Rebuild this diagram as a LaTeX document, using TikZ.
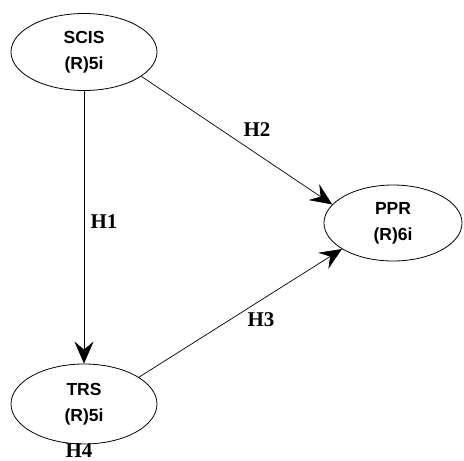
\documentclass[tikz,border=0pt]{standalone}
\usepackage{fontspec}
\newfontfamily\conbold{Liberation Sans Bold}
\newfontfamily\hypbold{Liberation Serif Bold}
\usetikzlibrary{shapes.geometric,arrows.meta}
\begin{document}
\begin{tikzpicture}[x=1pt,y=-1pt,
  construct/.style={draw, line width=0.8pt, ellipse, inner sep=0pt,
    minimum width=146pt, minimum height=77pt, align=center,
    font=\conbold\fontsize{17.5}{26}\selectfont},
  path/.style={draw, line width=0.7pt, -{Stealth[length=22pt,width=19pt,inset=8pt]}},
  hyp/.style={font=\hypbold\fontsize{21}{22}\selectfont, inner sep=1pt}]
\useasboundingbox (0,0) rectangle (464,461);
\node[construct] (scis) at (84,52) {SCIS\\(R)5i};
\node[construct, minimum width=138pt, minimum height=76pt] (ppr) at (393,223) {PPR\\(R)6i};
\node[construct, minimum height=80pt] (trs) at (84,404) {TRS\\(R)5i};
\draw[path] (scis.south) -- (trs.north);
\draw[path] (scis.-23) -- (ppr.163);
\draw[path] (trs.26) -- (ppr.207);
\node[hyp] (h1) at (104,222) {H1};
\node[hyp] (h2) at (257,130) {H2};
\node[hyp] (h3) at (261,320) {H3};
\node[hyp] (h4) at (79,450.5) {H4};
\end{tikzpicture}
\end{document}
